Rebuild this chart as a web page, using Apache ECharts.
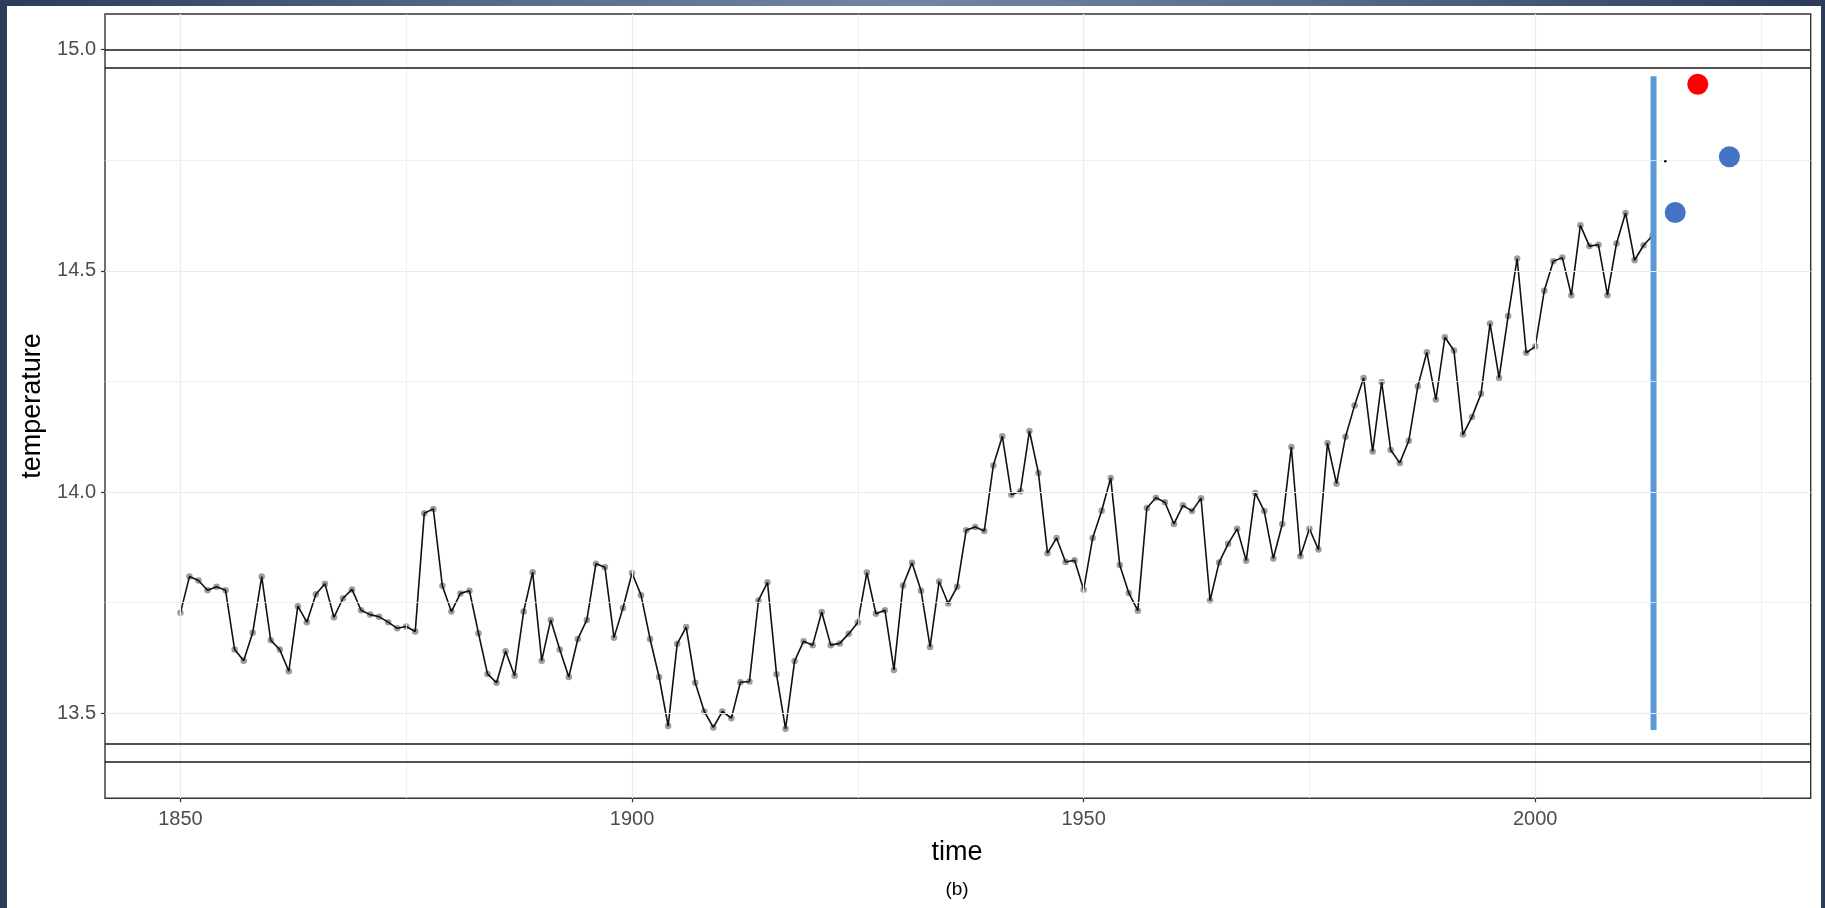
<!DOCTYPE html>
<html>
<head>
<meta charset="utf-8">
<title>temperature</title>
<script src="https://cdn.jsdelivr.net/npm/echarts@6/dist/echarts.min.js"></script>
<style>
  html, body { margin: 0; padding: 0; width: 1825px; height: 908px; overflow: hidden; background: #2c3b57; }
  #band { position: absolute; left: 0; top: 0; width: 1825px; height: 6px;
          background: linear-gradient(90deg, #2c3b57 0%, #5d6d8f 30%, #7584a4 50%, #5d6d8f 70%, #2c3b57 100%); }
  #paper { position: absolute; left: 7px; top: 6px; width: 1814px; height: 902px; background: #ffffff; }
  #chart { position: absolute; left: 0; top: 0; width: 1825px; height: 908px; }
</style>
</head>
<body>
<div id="band"></div>
<div id="paper"></div>
<div id="chart"></div>
<script>
// Annual mean temperature, 1850 onwards
const firstYear = 1850;
const temperature = [
  13.727, 13.809, 13.800, 13.778, 13.786, 13.778, 13.644, 13.619, 13.682, 13.809, // 1850s
  13.665, 13.644, 13.595, 13.742, 13.706, 13.769, 13.793, 13.717, 13.760, 13.780, // 1860s
  13.733, 13.723, 13.718, 13.706, 13.692, 13.696, 13.685, 13.952, 13.962, 13.788, // 1870s
  13.730, 13.771, 13.777, 13.681, 13.589, 13.569, 13.640, 13.585, 13.730, 13.819, // 1880s
  13.619, 13.711, 13.644, 13.582, 13.668, 13.711, 13.838, 13.830, 13.671, 13.738, // 1890s
  13.817, 13.767, 13.668, 13.582, 13.471, 13.657, 13.695, 13.569, 13.504, 13.468, // 1900s
  13.504, 13.489, 13.570, 13.572, 13.755, 13.796, 13.588, 13.465, 13.618, 13.663, // 1910s
  13.654, 13.729, 13.654, 13.658, 13.680, 13.705, 13.818, 13.725, 13.733, 13.598, // 1920s
  13.789, 13.840, 13.777, 13.650, 13.798, 13.748, 13.786, 13.914, 13.921, 13.912, // 1930s
  14.060, 14.126, 13.994, 14.002, 14.138, 14.043, 13.862, 13.896, 13.842, 13.846, // 1940s
  13.779, 13.896, 13.958, 14.032, 13.835, 13.772, 13.732, 13.964, 13.987, 13.977, // 1950s
  13.928, 13.970, 13.957, 13.986, 13.755, 13.841, 13.883, 13.917, 13.845, 13.998, // 1960s
  13.957, 13.850, 13.928, 14.102, 13.855, 13.917, 13.870, 14.111, 14.019, 14.125, // 1970s
  14.196, 14.258, 14.092, 14.249, 14.095, 14.066, 14.116, 14.239, 14.316, 14.209, // 1980s
  14.350, 14.320, 14.130, 14.170, 14.222, 14.381, 14.258, 14.398, 14.528, 14.315, // 1990s
  14.329, 14.455, 14.522, 14.530, 14.445, 14.603, 14.556, 14.559, 14.445, 14.562, // 2000s
  14.631, 14.524, 14.558, 14.580                                                  // 2010s
];

// Reference levels (horizontal rules)
const upperLevels = [15.0, 14.958];
const lowerLevels = [13.432, 13.389];

// Vertical marker: [year, value] end points
const markerSegment = [[2013.1, 13.462], [2013.1, 14.94]];

// Highlighted points
const redPoints = [[2018.0, 14.922]];
const bluePoints = [[2015.5, 14.632], [2021.5, 14.758]];
const smallPoints = [[2014.4, 14.748]];

// Axis ticks and extents
const xTicks = [1850, 1900, 1950, 2000];
const xMinorTicks = [1875, 1925, 1975, 2025];
const yTicks = [13.5, 14.0, 14.5, 15.0];
const yMinorTicks = [13.75, 14.25, 14.75];
const xRange = [1841.65, 2030.5];
const yRange = [13.3078, 15.0807];

const series = temperature.map((t, i) => [firstYear + i, t]);

const FONT = "'Liberation Sans', Arial, sans-serif";
const GRID_COLOR = '#ebebeb';

const chart = echarts.init(document.getElementById('chart'), null, { renderer: 'canvas' });

const gridMarks = []
  .concat(xTicks.map(v => ({ xAxis: v, lineStyle: { color: GRID_COLOR, width: 1.2, type: 'solid' } })))
  .concat(xMinorTicks.map(v => ({ xAxis: v, lineStyle: { color: GRID_COLOR, width: 0.8, type: 'solid' } })))
  .concat(yTicks.map(v => ({ yAxis: v, lineStyle: { color: GRID_COLOR, width: 1.2, type: 'solid' } })))
  .concat(yMinorTicks.map(v => ({ yAxis: v, lineStyle: { color: GRID_COLOR, width: 0.8, type: 'solid' } })));

const levelMarks = upperLevels.concat(lowerLevels).map(v => ({
  yAxis: v, lineStyle: { color: '#1a1a1a', width: 1.6, type: 'solid' }
}));

chart.setOption({
  animation: false,
  backgroundColor: 'transparent',
  grid: {
    left: 105, top: 14, width: 1705.7, height: 784.3,
    show: true, borderColor: '#333333', borderWidth: 1.4, backgroundColor: 'transparent'
  },
  xAxis: {
    type: 'value', min: xRange[0], max: xRange[1],
    axisLine: { show: false },
    splitLine: { show: false },
    axisTick: { show: true, length: 4, customValues: xTicks, lineStyle: { color: '#333333', width: 1.2 } },
    axisLabel: { show: true, customValues: xTicks, margin: 11, color: '#4d4d4d', fontSize: 20, fontFamily: FONT,
                 formatter: v => String(v) }
  },
  yAxis: {
    type: 'value', min: yRange[0], max: yRange[1],
    axisLine: { show: false },
    splitLine: { show: false },
    axisTick: { show: true, length: 4, customValues: yTicks, lineStyle: { color: '#333333', width: 1.2 } },
    axisLabel: { show: true, customValues: yTicks, margin: 9, color: '#4d4d4d', fontSize: 20, fontFamily: FONT,
                 formatter: v => v.toFixed(1) }
  },
  graphic: [
    { type: 'text', x: 957, y: 853, style: { text: 'time', font: '27px ' + FONT, fill: '#000', textAlign: 'center', textVerticalAlign: 'middle' } },
    { type: 'text', x: 33, y: 406, rotation: Math.PI / 2, style: { text: 'temperature', font: '27px ' + FONT, fill: '#000', textAlign: 'center', textVerticalAlign: 'middle' } },
    { type: 'text', x: 957, y: 890, style: { text: '(b)', font: '19px ' + FONT, fill: '#000', textAlign: 'center', textVerticalAlign: 'middle' } }
  ],
  series: [
    {
      name: 'grid', type: 'line', data: [], z: 0, silent: true,
      markLine: { silent: true, symbol: 'none', label: { show: false }, animation: false, data: gridMarks }
    },
    {
      name: 'levels', type: 'line', data: [], z: 3, silent: true,
      markLine: { silent: true, symbol: 'none', label: { show: false }, animation: false, data: levelMarks }
    },
    {
      name: 'points', type: 'scatter', data: series, z: 1, symbol: 'circle', symbolSize: 6.5,
      itemStyle: { color: '#8c8c8c', opacity: 0.85 }
    },
    {
      name: 'temperature', type: 'line', data: series, z: 2, showSymbol: false, symbol: 'none',
      lineStyle: { color: '#111111', width: 1.6 }
    },
    {
      name: 'marker', type: 'line', data: markerSegment, z: 4, showSymbol: false, symbol: 'none',
      lineStyle: { color: '#5b9bd5', width: 6, cap: 'butt' }
    },
    {
      name: 'small', type: 'scatter', data: smallPoints, z: 5, symbolSize: 2.5, itemStyle: { color: '#000', opacity: 1 }
    },
    {
      name: 'red', type: 'scatter', data: redPoints, z: 5, symbolSize: 21, itemStyle: { color: '#ff0000', opacity: 1 }
    },
    {
      name: 'blue', type: 'scatter', data: bluePoints, z: 5, symbolSize: 21, itemStyle: { color: '#4472c4', opacity: 1 }
    }
  ]
});
</script>
</body>
</html>
